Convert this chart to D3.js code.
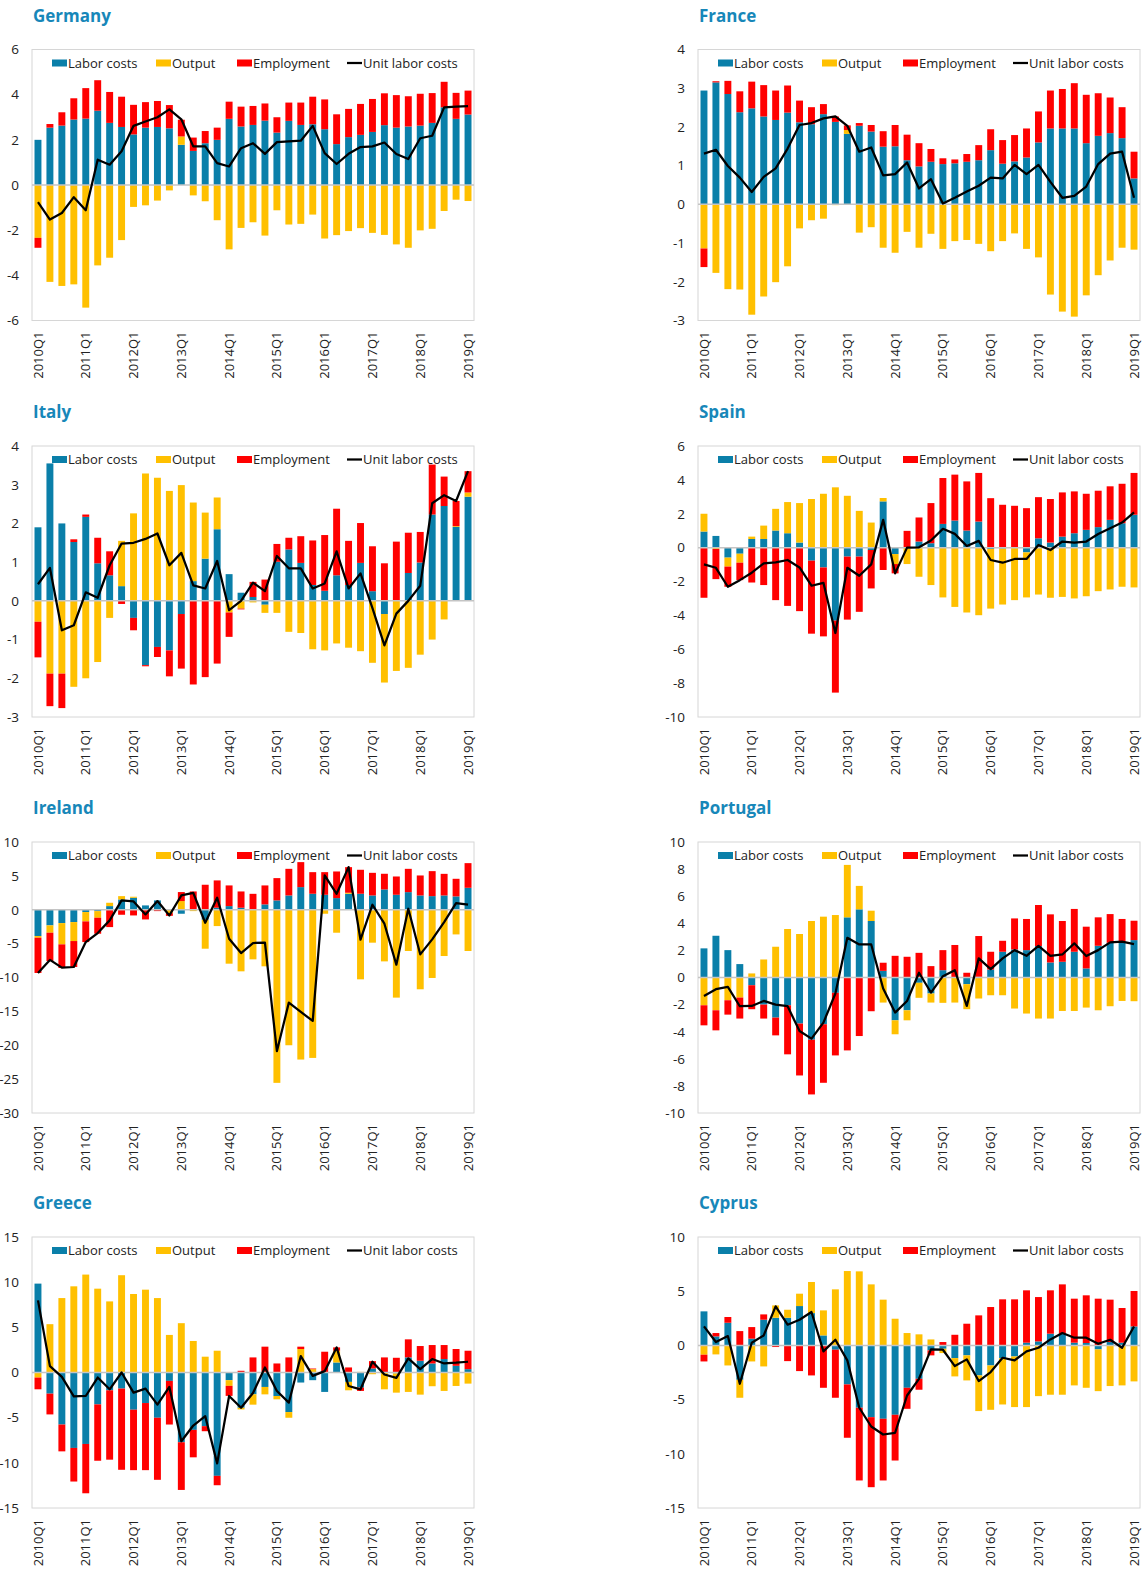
<!DOCTYPE html>
<html>
<head>
<meta charset="utf-8">
<script src="https://cdn.jsdelivr.net/npm/d3@7"></script>
<style>
  body { margin: 0; background: #fff; font-family: "Open Sans", "Noto Sans", sans-serif; }
</style>
</head>
<body>
<script>
// quarters 2010Q1..2019Q1
const quarters = ["2010Q1","2010Q2","2010Q3","2010Q4","2011Q1","2011Q2","2011Q3","2011Q4",
  "2012Q1","2012Q2","2012Q3","2012Q4","2013Q1","2013Q2","2013Q3","2013Q4",
  "2014Q1","2014Q2","2014Q3","2014Q4","2015Q1","2015Q2","2015Q3","2015Q4",
  "2016Q1","2016Q2","2016Q3","2016Q4","2017Q1","2017Q2","2017Q3","2017Q4",
  "2018Q1","2018Q2","2018Q3","2018Q4","2019Q1"];
const xTicks = ["2010Q1","2011Q1","2012Q1","2013Q1","2014Q1","2015Q1","2016Q1","2017Q1","2018Q1","2019Q1"];
const seriesNames = ["Labor costs", "Output", "Employment", "Unit labor costs"];

const germanyLabor = [2.0,2.54,2.63,2.9,2.94,3.29,2.75,2.57,2.24,2.54,2.57,2.51,1.78,1.51,1.85,2.0,2.93,2.59,2.66,2.85,2.32,2.84,2.66,2.69,2.47,1.81,2.12,2.22,2.35,2.65,2.54,2.59,2.63,2.75,3.44,2.93,3.12];
const germanyOutput = [-2.34,-4.29,-4.47,-4.4,-5.43,-3.56,-3.22,-2.44,-0.97,-0.9,-0.69,-0.24,0.37,-0.46,-0.72,-1.56,-2.85,-1.9,-1.65,-2.24,-1.12,-1.75,-1.72,-1.31,-2.37,-2.22,-2.04,-1.91,-2.12,-2.21,-2.63,-2.78,-2.01,-1.94,-1.15,-0.65,-0.71];
const germanyEmp = [-0.44,0.16,0.59,0.94,1.35,1.35,1.37,1.34,1.31,1.13,1.15,1.03,0.74,0.59,0.54,0.54,0.76,0.88,0.84,0.76,0.68,0.81,0.99,1.22,1.32,1.32,1.25,1.37,1.46,1.41,1.44,1.34,1.41,1.32,1.13,1.15,1.06];
const germanyUlc = [-0.76,-1.53,-1.24,-0.54,-1.12,1.12,0.9,1.49,2.62,2.81,3.0,3.35,2.91,1.71,1.71,0.97,0.82,1.63,1.85,1.38,1.9,1.93,1.96,2.62,1.41,0.93,1.38,1.68,1.71,1.88,1.37,1.15,2.07,2.18,3.44,3.47,3.49];

const franceLabor = [2.94,3.15,2.85,2.38,2.48,2.27,2.18,2.37,2.12,2.07,2.33,2.13,1.82,2.03,1.88,1.49,1.5,1.14,0.98,1.1,1.04,1.06,1.1,1.14,1.4,1.05,1.11,1.21,1.6,1.96,1.96,1.96,1.58,1.77,1.84,1.71,0.67];
const franceOutput = [-1.14,-1.77,-2.19,-2.2,-2.85,-2.38,-2.01,-1.6,-0.62,-0.41,-0.37,-0.02,0.1,-0.73,-0.59,-1.12,-1.25,-0.71,-1.12,-0.76,-1.15,-0.95,-0.92,-1.02,-1.21,-0.95,-0.75,-1.15,-1.37,-2.33,-2.77,-2.9,-2.35,-1.83,-1.45,-1.12,-1.17];
const franceEmp = [-0.48,0.03,0.34,0.54,0.69,0.81,0.76,0.7,0.56,0.44,0.26,0.14,0.12,0.07,0.17,0.4,0.55,0.66,0.6,0.33,0.15,0.1,0.2,0.39,0.54,0.61,0.68,0.75,0.8,0.98,1.02,1.17,1.25,1.1,0.92,0.8,0.69];
const franceUlc = [1.31,1.41,0.99,0.69,0.32,0.71,0.93,1.44,2.05,2.1,2.22,2.27,2.03,1.36,1.47,0.75,0.78,1.08,0.41,0.65,0.02,0.17,0.33,0.48,0.69,0.67,1.02,0.78,1.02,0.58,0.17,0.22,0.46,1.04,1.31,1.36,0.17];

const italyLabor = [1.9,3.55,2.0,1.52,2.17,0.97,0.66,0.38,-0.44,-1.66,-1.19,-1.28,-0.34,0.51,1.09,1.85,0.69,0.21,0.1,-0.1,1.01,1.33,0.98,0.41,0.26,0.66,0.41,0.98,0.25,-0.34,0.02,0.72,0.99,2.23,2.45,1.91,2.69];
const italyOutput = [-0.54,-1.88,-1.88,-2.22,-2.0,-1.58,-0.44,1.17,2.26,3.29,3.18,2.84,2.99,2.03,1.19,0.82,-0.3,-0.2,-0.04,-0.21,-0.31,-0.8,-0.83,-1.25,-1.28,-1.1,-1.21,-1.3,-1.6,-1.77,-1.81,-1.73,-1.39,-1.0,-0.48,0.02,0.11];
const italyEmp = [-0.92,-0.84,-0.89,0.07,0.06,0.66,0.62,-0.08,-0.32,-0.03,-0.26,-0.67,-1.41,-2.16,-1.97,-1.62,-0.63,-0.02,0.39,0.55,0.46,0.3,0.69,1.15,1.44,1.72,1.14,1.03,1.16,0.97,1.51,1.04,0.79,1.29,0.76,0.65,0.55];
const italyUlc = [0.43,0.85,-0.76,-0.63,0.22,0.08,0.92,1.48,1.5,1.6,1.74,0.92,1.24,0.4,0.32,1.03,-0.24,0,0.47,0.25,1.16,0.84,0.84,0.32,0.45,1.28,0.32,0.71,-0.19,-1.15,-0.33,0,0.39,2.52,2.73,2.58,3.35];

const spainLabor = [0.95,0.69,-0.59,-0.36,0.51,0.51,1.01,0.85,0.3,-0.77,-1.17,-4.31,-0.53,-0.53,-0.14,2.73,-0.38,0,0.36,0.26,1.4,1.6,1.01,1.54,-0.08,-0.06,0,-0.28,0.55,0.3,0.65,0.85,1.05,1.21,1.64,1.44,1.94];
const spainOutput = [1.05,-0.08,-0.53,-0.53,0.14,0.79,1.28,1.84,2.33,2.87,3.18,3.56,3.06,2.17,1.48,0.2,-0.59,-0.97,-1.72,-2.21,-2.94,-3.5,-3.83,-3.99,-3.52,-3.3,-3.1,-2.66,-2.77,-2.96,-2.91,-3.0,-2.87,-2.57,-2.47,-2.31,-2.35];
const spainEmp = [-2.96,-1.78,-1.19,-1.03,-2.06,-2.21,-3.1,-3.44,-3.75,-4.31,-4.07,-4.25,-3.72,-3.26,-2.27,-1.32,-0.55,0.99,1.42,2.37,2.71,2.71,2.9,2.87,2.92,2.53,2.47,2.33,2.43,2.57,2.61,2.47,2.13,2.15,1.98,2.33,2.47];
const spainUlc = [-0.99,-1.19,-2.31,-1.92,-1.48,-0.93,-0.87,-0.73,-1.17,-2.25,-2.08,-5.04,-1.19,-1.66,-0.99,1.64,-1.52,0,0.02,0.42,1.11,0.81,0.1,0.4,-0.73,-0.89,-0.67,-0.67,0.16,-0.14,0.36,0.3,0.36,0.8,1.15,1.48,2.08];

const irelandLabor = [-3.88,-2.31,-1.97,-1.82,-0.34,-0.2,0.54,1.52,1.77,0.64,1.38,0.05,-0.59,0.1,-1.47,0.3,0.54,0.3,0.05,0.79,1.38,2.11,3.34,2.36,2.21,1.72,2.36,2.36,2.11,3.0,2.21,2.6,2.11,2.01,2.11,1.97,3.24];
const irelandOutput = [-0.25,-1.08,-3.14,-2.8,-1.38,-0.98,0.49,0.49,0.15,0,0,-0.5,1.28,-0.2,-4.28,-2.41,-7.96,-9.09,-7.32,-8.35,-25.55,-20.0,-22.11,-21.87,-0.59,-3.39,0.15,-10.27,-4.86,-7.62,-12.97,-6.09,-11.74,-10.07,-6.83,-3.64,-6.09];
const irelandEmp = [-5.2,-4.18,-3.49,-3.83,-3.05,-2.36,-2.56,-0.74,-0.84,-1.43,-0.2,-0.4,1.33,2.6,3.69,4.03,3.05,2.4,2.3,2.8,3.29,3.93,3.69,3.19,3.34,3.93,3.78,3.54,3.34,2.31,2.7,3.44,2.95,3.69,3.19,2.6,3.64];
const irelandUlc = [-9.34,-7.4,-8.55,-8.45,-4.77,-3.44,-1.57,1.38,1.23,-0.69,1.28,-0.84,2.11,2.5,-1.92,1.77,-4.28,-6.39,-4.91,-4.86,-20.88,-13.71,-15.09,-16.41,5.06,2.36,6.29,-4.42,0.74,-2.06,-8.11,0.15,-6.58,-4.37,-1.82,0.98,0.74];

const portugalLabor = [2.15,3.08,2.02,0.99,-0.57,-2.0,-2.96,-2.05,-3.4,-4.59,-3.45,-1.13,4.44,5.03,4.17,0.49,-3.16,-2.42,-0.39,-1.18,0.54,0,-0.49,0.05,0.59,1.9,2.07,2.02,2.32,1.11,1.16,1.9,0.67,2.34,2.56,2.64,2.76];
const portugalOutput = [-2.05,-2.42,-1.68,-1.48,0.3,1.33,2.27,3.58,3.21,4.17,4.49,4.61,3.87,1.73,0.76,-1.85,-1.03,-0.74,-1.11,-0.67,-1.87,-1.85,-1.85,-1.55,-1.31,-1.31,-2.29,-2.66,-3.03,-3.03,-2.47,-2.47,-2.22,-2.42,-2.12,-1.73,-1.75];
const portugalEmp = [-1.48,-1.48,-1.06,-1.55,-1.77,-1.03,-1.31,-3.62,-3.83,-4.04,-4.32,-4.62,-5.38,-4.32,-2.49,0.6,1.6,1.53,1.82,0.84,1.48,2.4,0.35,3.01,1.31,0.81,2.29,2.3,3.03,3.55,3.01,3.16,3.08,2.1,2.12,1.68,1.43];
const portugalUlc = [-1.36,-0.86,-0.69,-2.12,-2.1,-1.73,-2.0,-2.12,-3.95,-4.51,-3.33,-1.18,2.93,2.44,2.44,-0.81,-2.59,-1.73,0.35,-1.11,0.1,0.54,-2.1,1.41,0.62,1.41,2.02,1.6,2.34,1.6,1.7,2.52,1.58,2.02,2.59,2.64,2.47];

const greeceLabor = [9.84,-2.34,-5.76,-8.35,-7.91,-3.53,-1.97,-1.78,-4.12,-3.38,-5.01,-0.93,-7.72,-6.35,-5.94,-11.44,-0.85,-3.9,-2.41,-1.6,-2.6,-4.38,-1.11,-0.85,-2.15,1.11,-1.04,-1.67,0.45,0,-0.1,1.67,1.3,1.0,1.49,0.74,0.37];
const greeceOutput = [-0.56,5.35,8.24,9.54,10.84,9.28,7.87,10.77,8.69,9.17,8.24,4.16,5.46,3.49,1.75,2.41,-0.63,-0.19,-1.15,-0.82,-0.37,-0.63,2.6,0.37,0,1.3,-0.93,0.07,-0.19,-1.86,-2.13,-2.15,-2.45,-1.52,-2.04,-1.49,-1.23];
const greeceEmp = [-1.3,-2.3,-2.97,-3.72,-5.46,-6.24,-7.68,-8.99,-6.69,-7.43,-6.87,-4.83,-5.28,-3.04,-0.56,-1.04,-1.11,0.19,1.67,2.86,1.0,1.67,0.26,0.07,2.3,0.37,0.56,-0.37,0.81,1.67,1.63,2.0,1.63,2.04,1.55,1.86,2.04];
const greeceUlc = [7.98,0.71,-0.48,-2.64,-2.6,-0.56,-1.86,0,-2.23,-1.78,-3.56,-1.6,-7.61,-5.87,-4.83,-10.06,-2.6,-3.9,-2.27,0.56,-2.04,-3.34,1.82,-0.37,0.15,2.78,-1.49,-1.86,1.19,-0.22,-0.59,1.56,0.37,1.49,1.0,1.08,1.19];

const cyprusLabor = [3.14,0.83,2.09,-3.17,0.62,2.37,2.55,2.55,3.63,2.98,0.92,-0.4,-3.6,-5.75,-6.62,-6.77,-6.4,-3.91,-3.08,-0.46,-0.31,-1.17,-0.92,-2.77,-1.85,-1.17,-1.02,0.25,0.37,1.08,1.08,0.25,0.22,-0.37,0.31,0.25,1.75];
const cyprusOutput = [-0.86,-0.83,-1.85,-1.66,-1.48,-1.94,1.14,0.74,1.14,2.87,2.31,5.17,6.86,6.83,5.63,4.22,2.46,1.14,1.02,0.55,-0.4,-1.69,-2.31,-3.29,-4.09,-4.28,-4.67,-5.69,-4.68,-4.55,-4.55,-3.69,-3.91,-3.85,-3.75,-3.69,-3.32];
const cyprusEmp = [-0.62,0.31,0.53,1.32,1.07,0.49,-0.15,-1.45,-2.37,-2.77,-3.91,-4.43,-4.92,-6.71,-6.46,-5.69,-4.22,-1.94,-1.01,-0.46,0.31,0.98,2.0,2.77,3.54,4.25,4.25,4.83,4.09,4.0,4.55,4.06,4.4,4.31,3.91,3.2,3.27];
const cyprusUlc = [1.75,0.31,0.86,-3.54,0.25,0.92,3.6,1.91,2.37,3.08,-0.55,0.52,-1.38,-5.75,-7.48,-8.22,-8.06,-4.62,-3.08,-0.37,-0.4,-1.91,-1.29,-3.29,-2.46,-1.14,-1.38,-0.55,-0.22,0.55,1.14,0.71,0.71,0.15,0.52,-0.22,1.75];

const panels = [
  { name: "Germany", labor: germanyLabor, output: germanyOutput, emp: germanyEmp, ulc: germanyUlc, yTicks: [-6,-4,-2,0,2,4,6] },
  { name: "France", labor: franceLabor, output: franceOutput, emp: franceEmp, ulc: franceUlc, yTicks: [-3,-2,-1,0,1,2,3,4] },
  { name: "Italy", labor: italyLabor, output: italyOutput, emp: italyEmp, ulc: italyUlc, yTicks: [-3,-2,-1,0,1,2,3,4] },
  { name: "Spain", labor: spainLabor, output: spainOutput, emp: spainEmp, ulc: spainUlc, yTicks: [-10,-8,-6,-4,-2,0,2,4,6] },
  { name: "Ireland", labor: irelandLabor, output: irelandOutput, emp: irelandEmp, ulc: irelandUlc, yTicks: [-30,-25,-20,-15,-10,-5,0,5,10] },
  { name: "Portugal", labor: portugalLabor, output: portugalOutput, emp: portugalEmp, ulc: portugalUlc, yTicks: [-10,-8,-6,-4,-2,0,2,4,6,8,10] },
  { name: "Greece", labor: greeceLabor, output: greeceOutput, emp: greeceEmp, ulc: greeceUlc, yTicks: [-15,-10,-5,0,5,10,15] },
  { name: "Cyprus", labor: cyprusLabor, output: cyprusOutput, emp: cyprusEmp, ulc: cyprusUlc, yTicks: [-15,-10,-5,0,5,10] }
];

const keys = ["labor", "output", "emp"];
const color = d3.scaleOrdinal().domain(keys).range(["#0a7fa9", "#ffc000", "#ff0000"]);

const svg = d3.select("body").append("svg")
  .attr("width", 1143)
  .attr("height", 1572);

const colX = [32, 698];
const rowY = [49.5, 446, 842, 1237];
const pw = 442, ph = 271;

panels.forEach((p, i) => {
  const x0 = colX[i % 2], y0 = rowY[Math.floor(i / 2)];

  svg.append("text")
    .attr("x", x0 + 1)
    .attr("y", y0 - 28)
    .attr("font-size", 17)
    .attr("font-weight", "bold")
    .attr("fill", "#1787b9")
    .text(p.name);

  const g = svg.append("g").attr("transform", "translate(" + x0 + "," + y0 + ")");

  const x = d3.scaleBand().domain(quarters).range([0, pw]).paddingInner(0.42).paddingOuter(0.21);
  const y = d3.scaleLinear().domain(d3.extent(p.yTicks)).range([ph, 0]);

  g.append("rect")
    .attr("width", pw).attr("height", ph)
    .attr("fill", "none").attr("stroke", "#d6d6d6");

  const yAxis = g.append("g")
    .call(d3.axisLeft(y).tickValues(p.yTicks).tickSize(0).tickPadding(13).tickFormat(d => String(d)));
  yAxis.select(".domain").remove();
  yAxis.selectAll("text").attr("font-size", 13.5).attr("font-family", "Open Sans").attr("fill", "#222");

  const xAxis = g.append("g")
    .attr("transform", "translate(0," + ph + ")")
    .call(d3.axisBottom(x).tickValues(xTicks).tickSize(0));
  xAxis.select(".domain").remove();
  xAxis.selectAll("text")
    .attr("transform", "rotate(-90)")
    .attr("x", -11).attr("y", 0).attr("dy", "0.35em")
    .attr("text-anchor", "end")
    .attr("font-size", 13).attr("font-family", "Open Sans").attr("fill", "#222");

  const rows = quarters.map((q, j) => ({ q: q, labor: p.labor[j], output: p.output[j], emp: p.emp[j] }));
  const stacked = d3.stack().keys(keys).offset(d3.stackOffsetDiverging)(rows);

  g.append("g").selectAll("g")
    .data(stacked).join("g")
    .attr("fill", d => color(d.key))
    .selectAll("rect")
    .data(d => d).join("rect")
    .attr("x", d => x(d.data.q))
    .attr("width", x.bandwidth())
    .attr("y", d => y(Math.max(d[0], d[1])))
    .attr("height", d => Math.abs(y(d[0]) - y(d[1])));

  g.append("line")
    .attr("x1", 0).attr("x2", pw)
    .attr("y1", y(0)).attr("y2", y(0))
    .attr("stroke", "#c4c4c4").attr("stroke-width", 1.5);

  const line = d3.line()
    .x((d, j) => x(quarters[j]) + x.bandwidth() / 2)
    .y(d => y(d));
  g.append("path")
    .datum(p.ulc)
    .attr("d", line)
    .attr("fill", "none")
    .attr("stroke", "#000")
    .attr("stroke-width", 2.25)
    .attr("stroke-linejoin", "round");

  // legend
  const leg = g.append("g").attr("font-size", 13).attr("fill", "#222");
  const legX = [20, 124, 205, 315];
  keys.forEach((k, j) => {
    leg.append("rect").attr("x", legX[j]).attr("y", 10).attr("width", 15).attr("height", 7).attr("fill", color(k));
  });
  leg.append("line")
    .attr("x1", legX[3]).attr("x2", legX[3] + 15)
    .attr("y1", 13.5).attr("y2", 13.5)
    .attr("stroke", "#000").attr("stroke-width", 2.25);
  seriesNames.forEach((s, j) => {
    leg.append("text").attr("x", legX[j] + 16).attr("y", 13.5).attr("dy", "0.35em").text(s);
  });
});
</script>
</body>
</html>
